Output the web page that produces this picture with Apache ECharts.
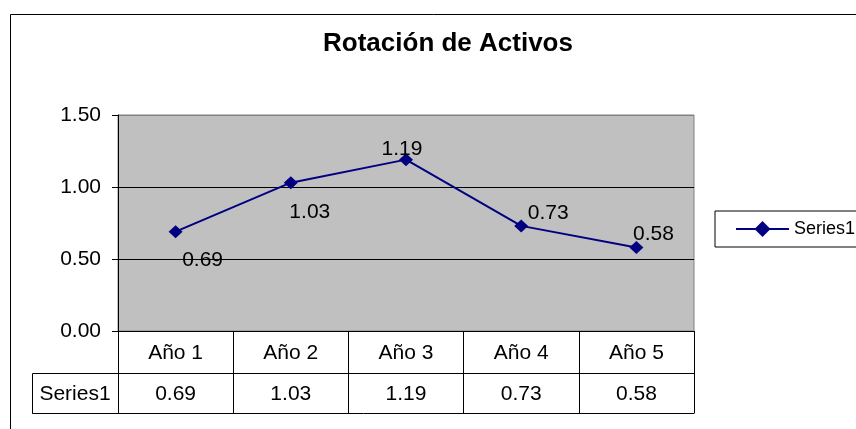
<!DOCTYPE html>
<html>
<head>
<meta charset="utf-8">
<script src="https://cdn.jsdelivr.net/npm/echarts@6/dist/echarts.min.js"></script>
<style>
html,body{margin:0;padding:0;background:#fff;}
#chart{width:856px;height:429px;}
</style>
</head>
<body>
<div id="chart"></div>
<script>
// ---- data ----
const titleText = 'Rotación de Activos';
const seriesName = 'Series1';
const categories = ['Año 1', 'Año 2', 'Año 3', 'Año 4', 'Año 5'];
const values = [0.69, 1.03, 1.19, 0.73, 0.58];
const yTicks = [0, 0.5, 1.0, 1.5];

// ---- styles (label offsets relative to each point) ----
const labelOffsets = [[27, 29], [19, 30], [-4, -10], [27, -13], [17, -13]];
const FONT = '"Liberation Sans", Arial, sans-serif';
const NAVY = '#000080';
const FS = 21;

const chart = echarts.init(document.getElementById('chart'), null, {renderer: 'canvas'});

const gridLeft = 118, gridTop = 115, gridW = 576, gridH = 216;
const row = 42;

const option = {
  animation: false,
  backgroundColor: '#ffffff',
  textStyle: {fontFamily: FONT},
  grid: {
    left: gridLeft, top: gridTop, width: gridW, height: gridH,
    show: true, backgroundColor: '#c0c0c0', borderColor: '#808080', borderWidth: 1
  },
  legend: {
    left: 715, top: 211,
    padding: [9, 80, 9, 20],
    borderColor: '#000', borderWidth: 1,
    itemWidth: 53, itemHeight: 20,
    textStyle: {fontSize: 18, color: '#000', fontFamily: FONT},
    data: [seriesName]
  },
  xAxis: [
    {
      type: 'category', data: categories, position: 'bottom',
      axisLine: {show: true, lineStyle: {color: '#000', width: 1}},
      axisTick: {show: true, length: row, interval: 0, lineStyle: {color: '#000'}},
      axisLabel: {fontSize: FS, color: '#000', margin: 12, interval: 0, fontFamily: FONT},
      splitLine: {show: false}
    },
    {
      type: 'category', data: categories, position: 'bottom', offset: row,
      axisLine: {show: true, lineStyle: {color: '#000', width: 1}},
      axisTick: {show: true, length: 40, interval: 0, lineStyle: {color: '#000'}},
      axisLabel: {
        fontSize: FS, color: '#000', margin: 11, interval: 0, fontFamily: FONT,
        formatter: function (v, i) { return values[i].toFixed(2); }
      },
      splitLine: {show: false}
    }
  ],
  yAxis: {
    type: 'value', min: yTicks[0], max: yTicks[yTicks.length - 1], interval: yTicks[1] - yTicks[0],
    axisLine: {show: true, lineStyle: {color: '#000'}},
    axisTick: {show: true, length: 6, lineStyle: {color: '#000'}},
    axisLabel: {fontSize: FS, color: '#000', margin: 17, fontFamily: FONT,
      formatter: function (v) { return v.toFixed(2); }},
    splitLine: {show: true, lineStyle: {color: ['#000', '#000', '#000', '#808080'], width: 1}}
  },
  series: [{
    name: seriesName,
    type: 'line',
    xAxisIndex: 0,
    data: values.map(function (v, i) {
      return {value: v, label: {offset: labelOffsets[i]}};
    }),
    symbol: 'diamond',
    symbolSize: [14, 13],
    itemStyle: {color: NAVY},
    lineStyle: {color: NAVY, width: 2},
    label: {
      show: true, position: 'inside', fontSize: FS, color: '#000', fontFamily: FONT,
      formatter: function (p) { return p.value.toFixed(2); }
    },
    z: 5
  }],
  graphic: [
    {
      type: 'rect', silent: true, z: -1,
      shape: {x: 10.5, y: 14.5, width: 900, height: 500},
      style: {fill: null, stroke: '#000', lineWidth: 1}
    },
    {
      type: 'text', silent: true,
      style: {
        text: titleText, x: 448, y: 44, textAlign: 'center', textVerticalAlign: 'middle',
        font: 'bold 26px ' + FONT, fill: '#000'
      }
    },
    {
      type: 'rect', silent: true,
      shape: {x: 32.5, y: gridTop + gridH + row + 0.5, width: gridLeft - 32, height: 40},
      style: {fill: null, stroke: '#000', lineWidth: 1}
    },
    {
      type: 'line', silent: true,
      shape: {x1: 32.5, y1: gridTop + gridH + row + 40.5, x2: gridLeft + gridW + 0.5, y2: gridTop + gridH + row + 40.5},
      style: {stroke: '#000', lineWidth: 1}
    },
    {
      type: 'text', silent: true,
      style: {
        text: seriesName, x: 75, y: gridTop + gridH + row + 21, textAlign: 'center', textVerticalAlign: 'middle',
        font: FS + 'px ' + FONT, fill: '#000'
      }
    }
  ]
};
chart.setOption(option);
</script>
</body>
</html>
